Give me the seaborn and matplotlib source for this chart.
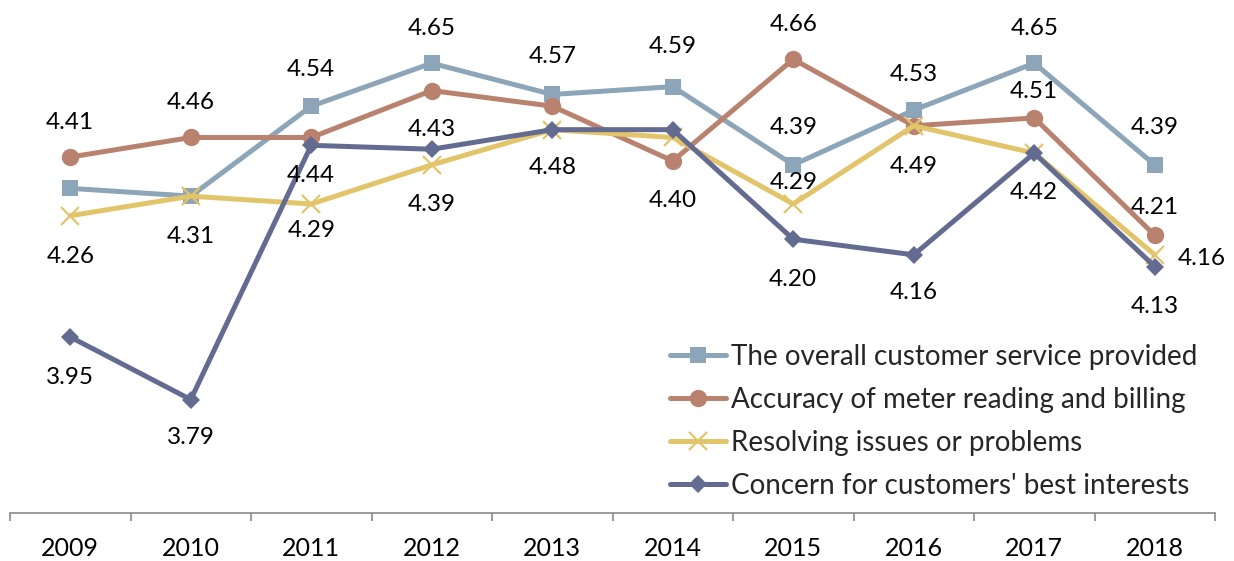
import numpy as np
import pandas as pd
import matplotlib
matplotlib.use("Agg")
import matplotlib.pyplot as plt
import seaborn as sns

# ---------------- data ----------------
years = ["2009", "2010", "2011", "2012", "2013", "2014", "2015", "2016", "2017", "2018"]
overall = [4.33, 4.31, 4.54, 4.65, 4.57, 4.59, 4.39, 4.53, 4.65, 4.39]
accuracy = [4.41, 4.46, 4.46, 4.58, 4.54, 4.40, 4.66, 4.49, 4.51, 4.21]
resolving = [4.26, 4.31, 4.29, 4.39, 4.48, 4.46, 4.29, 4.49, 4.42, 4.16]
concern = [3.95, 3.79, 4.44, 4.43, 4.48, 4.48, 4.20, 4.16, 4.42, 4.13]
series_names = [
    "The overall customer service provided",
    "Accuracy of meter reading and billing",
    "Resolving issues or problems",
    "Concern for customers' best interests",
]

# ---------------- styles ----------------
series_values = [overall, accuracy, resolving, concern]
colors = ["#8CA5B9", "#B9826F", "#E2C46A", "#636B91"]
markers = ["s", "o", "x", "D"]
msizes = [11, 12.5, 13, 9.5]
mews = [0, 0, 1.6, 0]

# label layout: (series index, year index, dx px, dy px) ; dy>0 means below
label_layout = [
    (0, 2, 0, -37), (0, 3, 0, -35), (0, 4, 0, -38), (0, 5, 0, -40),
    (0, 6, 0, -37), (0, 7, 0, -36), (0, 8, 0, -35), (0, 9, 0, -37),
    (1, 0, 0, -35), (1, 1, 0, -35), (1, 5, 0, 40), (1, 6, 0, -35),
    (1, 8, 0, -26), (1, 9, 0, -28),
    (2, 0, 0, 41), (2, 1, 0, 40), (2, 2, 0, 27), (2, 3, 0, 40),
    (2, 6, 0, -21), (2, 7, 0, 41), (2, 9, 47, 4),
    (3, 0, 0, 41), (3, 1, 0, 38), (3, 2, 0, 30), (3, 3, 0, -20),
    (3, 4, 0, 38), (3, 6, 0, 40), (3, 7, 0, 38), (3, 8, 0, 39), (3, 9, 0, 40),
]

sns.set_theme(style="white")
plt.rcParams["font.family"] = ["Lato", "DejaVu Sans"]

W, H = 1234, 561
fig = plt.figure(figsize=(W / 100, H / 100), dpi=100)
left_px, right_px, bottom_px, top_px = 10, 1215, 513, 4.5
ax = fig.add_axes([left_px / W, 1 - bottom_px / H,
                   (right_px - left_px) / W, (bottom_px - top_px) / H])

pos = np.arange(len(years))
for i, (name, vals) in enumerate(zip(series_names, series_values)):
    df = pd.DataFrame({"pos": pos, "value": vals})
    sns.lineplot(data=df, x="pos", y="value", ax=ax, color=colors[i], lw=3.6,
                 marker=markers[i], markersize=msizes[i], markeredgewidth=mews[i],
                 markeredgecolor=colors[i], markerfacecolor=colors[i],
                 label=name, zorder=2 + i)

px2pt = 72 / 100
for si, yi, dx, dy in label_layout:
    v = series_values[si][yi]
    ax.annotate(f"{v:.2f}", xy=(pos[yi], v), xytext=(dx * px2pt, -dy * px2pt),
                textcoords="offset points", ha="center", va="center",
                fontsize=17.5, color="black", zorder=10)

ax.set_xlim(-0.5, len(years) - 0.5)
ax.set_ylim(3.5, 4.8)
ax.set_xticks(pos)
ax.set_xticklabels(years, fontsize=18, color="black")
ax.set_xticks(np.arange(-0.5, len(years)), minor=True)
ax.tick_params(axis="x", which="major", length=0, pad=17)
ax.tick_params(axis="x", which="minor", bottom=True, length=6, width=1.2,
               color="#8a8a8a", direction="out")
ax.set_yticks([])
ax.set_xlabel("")
ax.set_ylabel("")
for s in ["left", "right", "top"]:
    ax.spines[s].set_visible(False)
ax.spines["bottom"].set_color("#8a8a8a")
ax.spines["bottom"].set_linewidth(1.2)
ax.grid(False)

handles, labels = ax.get_legend_handles_labels()
ax.legend(handles, labels, loc="upper left", bbox_to_anchor=(670 / W, 1 - 344 / H),
          bbox_transform=fig.transFigure, frameon=False, fontsize=20,
          handlelength=2.0, handletextpad=0.2, labelspacing=0.61,
          borderpad=0, borderaxespad=0)

fig.savefig("out.png", dpi=100)
